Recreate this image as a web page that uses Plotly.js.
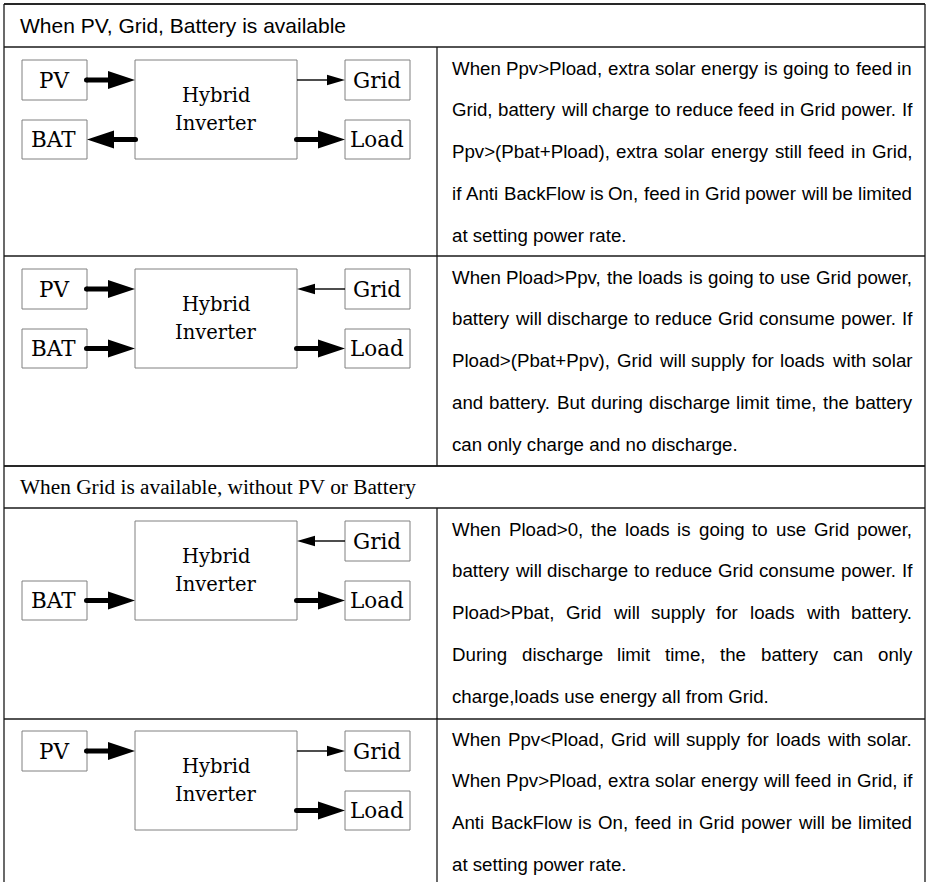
<!DOCTYPE html>
<html><head><meta charset="utf-8">
<script src="https://cdn.plot.ly/plotly-3.0.1.min.js"></script>
<style>html,body{margin:0;padding:0;background:#fff}</style>
</head><body><div id="chart" style="width:927px;height:882px"></div>
<script>
// ---------- content ----------
const sectionTitles = ["When PV, Grid, Battery is available", "When Grid is available, without PV or Battery"];
const inverterLines = ["Hybrid", "Inverter"];
const nodeNames = ["PV", "BAT", "Grid", "Load"];
// flow of each node per scenario: "in" = into inverter, "out" = out of inverter, "" = absent
const pvFlow   = ["in",  "in",  "",   "in"];
const batFlow  = ["out", "in",  "in", ""];
const gridFlow = ["out", "in",  "in", "out"];
const loadFlow = ["out", "out", "out","out"];
const desc1 = [
  "When Ppv>Pload, extra solar energy is going to feed in",
  "Grid, battery will charge to reduce feed in Grid power. If",
  "Ppv>(Pbat+Pload), extra solar energy still feed in Grid,",
  "if Anti BackFlow is On, feed in Grid power will be limited",
  "at setting power rate."
];
const desc2 = [
  "When Pload>Ppv, the loads is going to use Grid power,",
  "battery will discharge to reduce Grid consume power. If",
  "Pload>(Pbat+Ppv), Grid will supply for loads with solar",
  "and battery. But during discharge limit time, the battery",
  "can only charge and no discharge."
];
const desc3 = [
  "When Pload>0, the loads is going to use Grid power,",
  "battery will discharge to reduce Grid consume power. If",
  "Pload>Pbat, Grid will supply for loads with battery.",
  "During discharge limit time, the battery can only",
  "charge,loads use energy all from Grid."
];
const desc4 = [
  "When Ppv<Pload, Grid will supply for loads with solar.",
  "When Ppv>Pload, extra solar energy will feed in Grid, if",
  "Anti BackFlow is On, feed in Grid power will be limited",
  "at setting power rate."
];
const descriptions = [desc1, desc2, desc3, desc4];

// ---------- layout geometry ----------
const W = 927, H = 882;
const L = 4, R = 925, T = 4, DIV = 437;
const headerRows = [[4, 47], [466, 508]];
const rowTops = [47, 256, 508, 718];
const rowBottoms = [256, 466, 719, 940];
const textL = 452, textR = 912, lineStep = 41.8, firstLine = 21;
const bodyFont = {family: "Liberation Sans, Arial, sans-serif", size: 18.7, color: "#000"};
const boxFont = "DejaVu Serif, serif";

const shapes = [];
const annotations = [];
const tableLine = {color: "#1a1a1a", width: 1.3};
const boxLine = {color: "#808080", width: 1};

function hline(y, x0, x1) { shapes.push({type: "line", xref: "x", yref: "y", x0, x1, y0: y, y1: y, line: tableLine}); }
function vline(x, y0, y1) { shapes.push({type: "line", xref: "x", yref: "y", x0: x, x1: x, y0, y1, line: tableLine}); }

// outer border + header rows
vline(L, T, H + 10); vline(R, T, H + 10);
hline(T, L, R);
headerRows.forEach(([a, b], i) => {
  hline(a, L, R); hline(b, L, R);
  annotations.push({xref: "x", yref: "y", x: 20, y: (a + b) / 2, xanchor: "left", yanchor: "middle",
    text: sectionTitles[i], showarrow: false, borderpad: 0, borderwidth: 0,
    font: i === 0 ? {family: "Liberation Sans, Arial, sans-serif", size: 21, color: "#000"}
                  : {family: "Liberation Serif, Times New Roman, serif", size: 21.3, color: "#000"}});
});
rowTops.forEach((t, i) => { hline(rowBottoms[i], L, R); vline(DIV, t, rowBottoms[i]); });

// ---------- diagram ----------
const leftX = [22, 87], invX = [135, 297], rightX = [345, 410];
function box(x0, x1, y0, y1) { shapes.push({type: "rect", xref: "x", yref: "y", x0, x1, y0, y1, line: boxLine, fillcolor: "rgba(0,0,0,0)"}); }
function label(x, y, text, size) {
  annotations.push({xref: "x", yref: "y", x, y, xanchor: "center", yanchor: "middle", text, showarrow: false,
    borderpad: 0, borderwidth: 0, font: {family: boxFont, size, color: "#000"}});
}
function tri(tipX, y, dir, len, half) {
  const bx = tipX - dir * len;
  shapes.push({type: "path", xref: "x", yref: "y",
    path: `M ${tipX} ${y} L ${bx} ${y - half} L ${bx} ${y + half} Z`,
    fillcolor: "#000", line: {width: 0, color: "#000"}});
}
function thickArrow(from, to, y) {
  const dir = to > from ? 1 : -1;
  const sx = from - dir * 0.5;
  shapes.push({type: "line", xref: "x", yref: "y", x0: sx, x1: to - dir * 25, y0: y, y1: y, line: {color: "#000", width: 5}});
  shapes.push({type: "circle", xref: "x", yref: "y", x0: sx - 2.5, x1: sx + 2.5, y0: y - 2.5, y1: y + 2.5,
    fillcolor: "#000", line: {width: 0, color: "#000"}});
  tri(to, y, dir, 27, 9);
}
function thinArrow(from, to, y) {
  const dir = to > from ? 1 : -1;
  shapes.push({type: "line", xref: "x", yref: "y", x0: from, x1: to - dir * 16, y0: y, y1: y, line: {color: "#000", width: 1.4}});
  tri(to, y, dir, 18, 5.3);
}

rowTops.forEach((t, r) => {
  const topY = [t + 13, t + 53], botY = [t + 73, t + 112];
  const cTop = (topY[0] + topY[1]) / 2, cBot = (botY[0] + botY[1]) / 2;
  box(invX[0], invX[1], topY[0], botY[1]);
  const cInv = (topY[0] + botY[1]) / 2;
  label((invX[0] + invX[1]) / 2, cInv - 14, inverterLines[0], 19.5);
  label((invX[0] + invX[1]) / 2, cInv + 14, inverterLines[1], 19.5);
  const flows = [pvFlow[r], batFlow[r], gridFlow[r], loadFlow[r]];
  flows.forEach((f, n) => {
    if (!f) return;
    const left = n < 2, xs = left ? leftX : rightX;
    const yy = (n % 2 === 0) ? topY : botY, cy = (n % 2 === 0) ? cTop : cBot;
    box(xs[0], xs[1], yy[0], yy[1]);
    label((xs[0] + xs[1]) / 2 - 1, cy, nodeNames[n], 21.5);
    const nodeEdge = left ? xs[1] : xs[0];
    const invEdge = left ? invX[0] : invX[1];
    const a = f === "in" ? nodeEdge : invEdge, b = f === "in" ? invEdge : nodeEdge;
    if (n === 2) thinArrow(a, b, cy); else thickArrow(a, b, cy);
  });
});

// ---------- justified description text ----------
const ctx = document.createElement("canvas").getContext("2d");
ctx.font = `${bodyFont.size}px "Liberation Sans"`;
function esc(s) { return s.replace(/&/g, "&amp;").replace(/</g, "&lt;").replace(/>/g, "&gt;"); }
descriptions.forEach((lines, r) => {
  lines.forEach((ln, i) => {
    const y = rowTops[r] + firstLine + i * lineStep;
    const last = i === lines.length - 1;
    const words = ln.split(" ");
    if (last || words.length < 2) {
      annotations.push({xref: "x", yref: "y", x: textL, y, xanchor: "left", yanchor: "middle", text: esc(ln),
        showarrow: false, borderpad: 0, borderwidth: 0, font: bodyFont});
      return;
    }
    const widths = words.map(w => ctx.measureText(w).width);
    const total = widths.reduce((s, v) => s + v, 0);
    const gap = (textR - textL - total) / (words.length - 1);
    let x = textL;
    words.forEach((w, k) => {
      annotations.push({xref: "x", yref: "y", x, y, xanchor: "left", yanchor: "middle", text: esc(w),
        showarrow: false, borderpad: 0, borderwidth: 0, font: bodyFont});
      x += widths[k] + gap;
    });
  });
});

const layout = {
  width: W, height: H, margin: {l: 0, r: 0, t: 0, b: 0},
  paper_bgcolor: "#fff", plot_bgcolor: "#fff", showlegend: false,
  xaxis: {range: [0, W], visible: false, fixedrange: true},
  yaxis: {range: [H, 0], visible: false, fixedrange: true},
  shapes, annotations
};
Plotly.newPlot("chart", [{type: "scatter", x: [], y: [], hoverinfo: "skip"}], layout, {staticPlot: true, displayModeBar: false});
</script></body></html>
